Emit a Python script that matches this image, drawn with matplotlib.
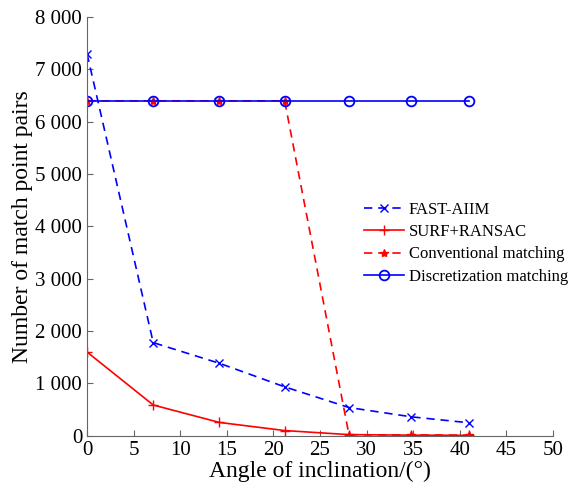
import matplotlib.pyplot as plt
from matplotlib.ticker import FuncFormatter

plt.rcParams["font.family"] = ["Liberation Serif", "DejaVu Serif"]

angles = [0, 7.1, 14.2, 21.2, 28.1, 34.8, 41]
fast_aiim = [7300, 1780, 1385, 935, 540, 362, 248]
surf_ransac = [1600, 588, 255, 100, 22, 12, 8]
conventional = [6400, 6400, 6400, 6400, 20, 15, 12]
discretization = [6400, 6400, 6400, 6400, 6400, 6400, 6400]

fig = plt.figure(figsize=(5.69, 4.88), dpi=100)
ax = fig.add_axes([0.153, 0.107, 0.819, 0.858])

ax.plot(angles, fast_aiim, "b--x", lw=1.2, ms=6, dashes=(5, 3.5), label="FAST-AIIM")
ax.plot(angles, surf_ransac, "r-+", lw=1.2, ms=7, label="SURF+RANSAC")
ax.plot(angles, conventional, "r--*", lw=1.2, ms=6, dashes=(5, 3.5),
        label="Conventional matching")
ax.plot(angles, discretization, "b-o", lw=1.2, ms=7, mfc="none", mew=1.3,
        label="Discretization matching")

ax.set_xlim(0, 50)
ax.set_ylim(0, 8000)
ax.set_xticks(range(0, 51, 5))
ax.set_yticks(range(0, 8001, 1000))
ax.yaxis.set_major_formatter(FuncFormatter(lambda v, p: f"{int(v):,}".replace(",", " ")))
ax.tick_params(direction="in", labelsize=15, length=4, color="#666666")
for s in ["top", "right"]:
    ax.spines[s].set_visible(False)
for s in ["left", "bottom"]:
    ax.spines[s].set_color("#666666")

ax.set_xlabel("Angle of inclination/(°)", fontsize=17, labelpad=1)
ax.set_ylabel("Number of match point pairs", fontsize=17, labelpad=2)

ax.legend(loc="upper left", bbox_to_anchor=(0.58, 0.575), frameon=False,
          fontsize=12, handlelength=2.4, labelspacing=0.38, borderaxespad=0,
          handletextpad=0.3)

plt.savefig("out.png")
